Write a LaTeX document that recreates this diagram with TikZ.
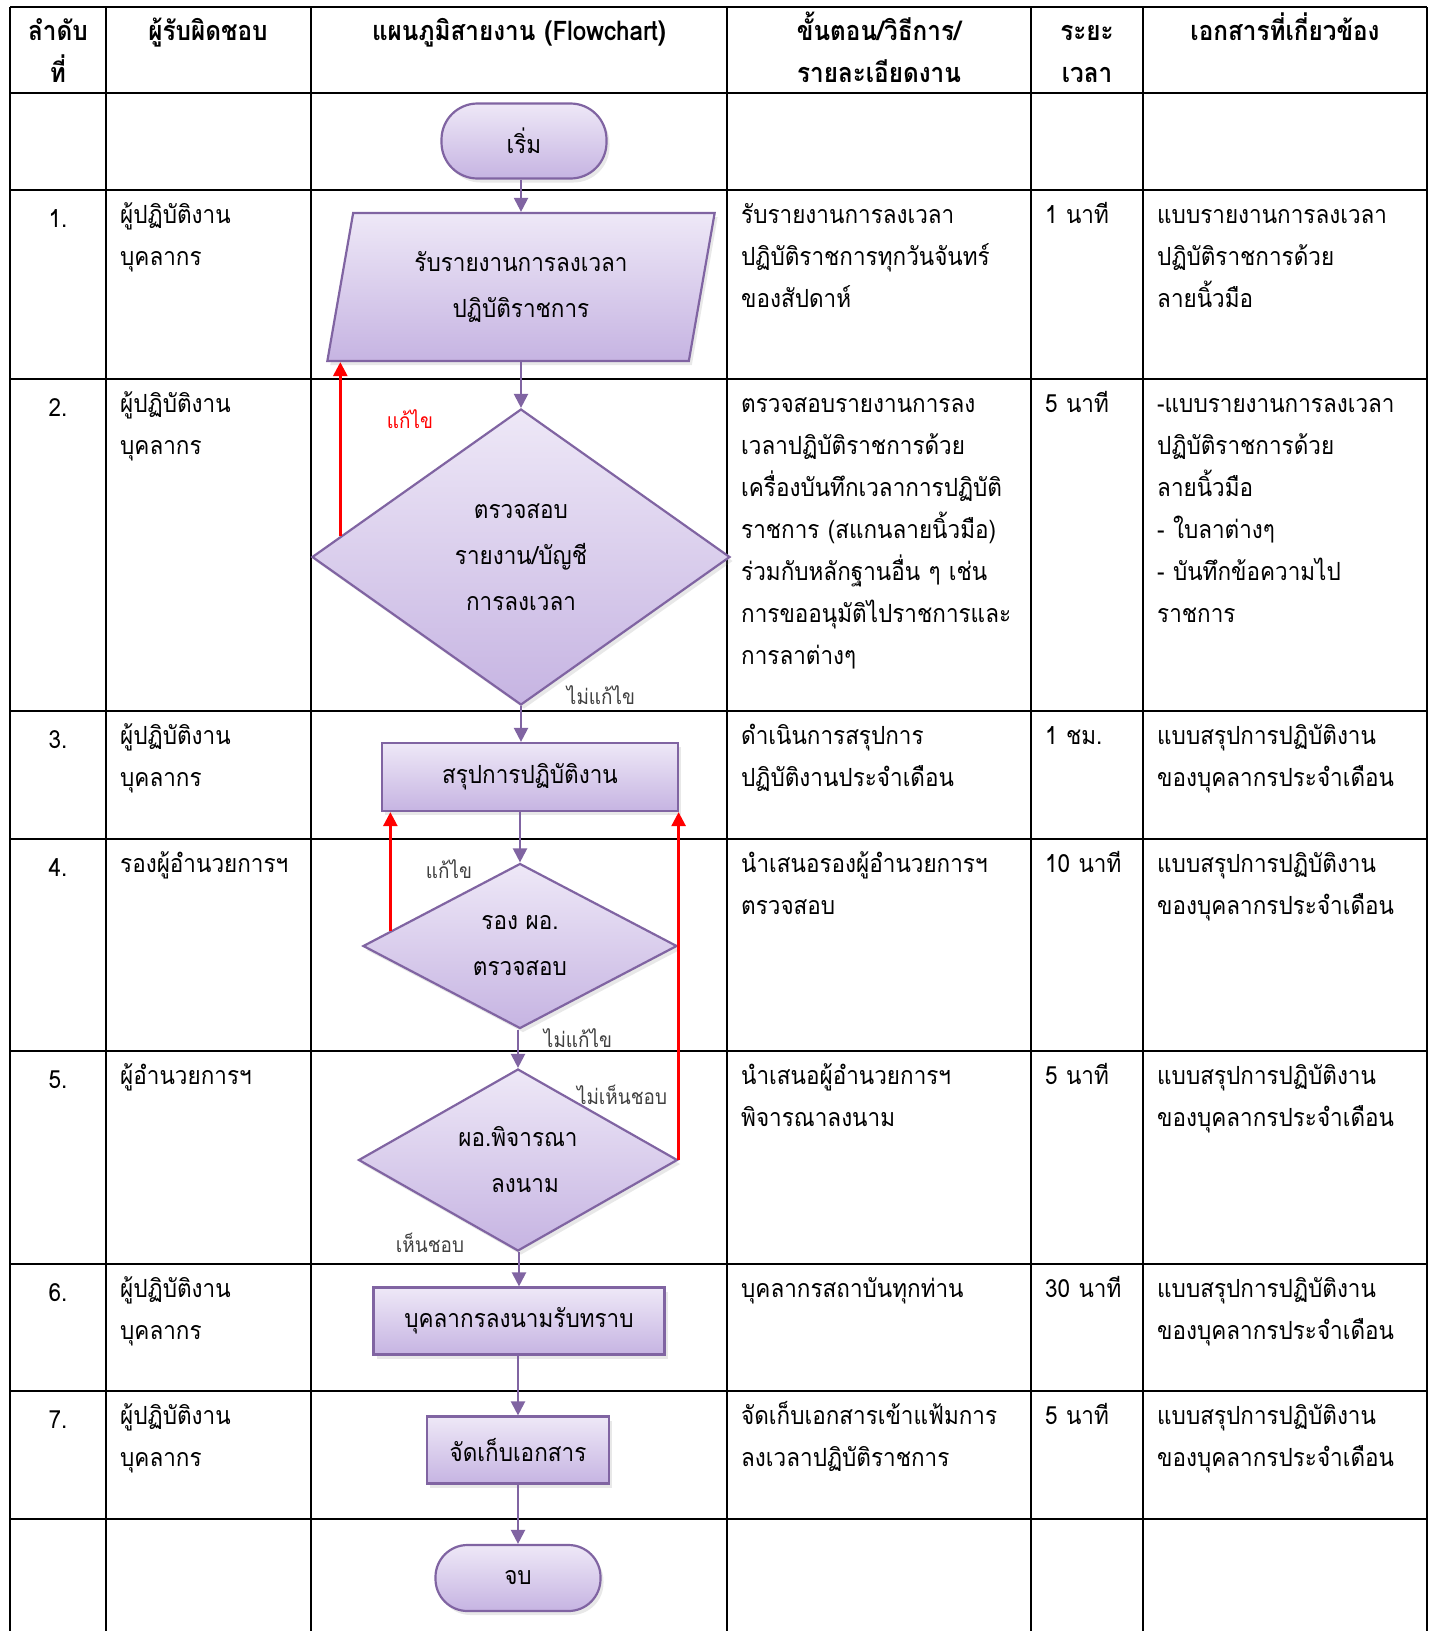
\documentclass[tikz,border=0pt]{standalone}
\usepackage{fontspec}
\newfontfamily\thai[Script=Thai,FakeStretch=0.9]{Loma}
\usetikzlibrary{arrows.meta,shapes.geometric,shadows,calc}

\definecolor{lavtop}{HTML}{EEE8F7}
\definecolor{lavbot}{HTML}{C6B4E2}
\definecolor{lavline}{HTML}{8064A2}
\definecolor{labgray}{HTML}{404040}

\tikzset{
  flow/.style={draw=lavline, line width=2.2pt, top color=lavtop, bottom color=lavbot,
    drop shadow={opacity=0.18, shadow xshift=3pt, shadow yshift=-4pt},
    font=\thai\fontsize{25}{46}\selectfont, align=center, inner sep=0pt},
  termbox/.style={flow, rectangle, minimum width=165pt},
  procbox/.style={flow, rectangle},
  iobox/.style={flow, trapezium, trapezium left angle=77, trapezium right angle=103,
    trapezium stretches=true},
  decbox/.style={flow, diamond},
  flowline/.style={draw=lavline, line width=2.2pt, -{Triangle[width=14pt,length=14pt]}},
  backline/.style={draw=red, line width=2.6pt, -{Triangle[width=14pt,length=14pt]}},
  gridline/.style={line width=2pt},
  headtext/.style={font=\thai\bfseries\fontsize{27}{42}\selectfont, align=center,
    anchor=base, inner sep=0pt},
  celltext/.style={font=\thai\fontsize{25}{42}\selectfont, align=left, text width=#1,
    anchor=base west, inner sep=0pt},
  celltext/.default=280pt,
  numtext/.style={font=\thai\fontsize{25}{42}\selectfont, anchor=base, inner sep=0pt},
  flowlab/.style={font=\thai\fontsize{21}{24}\selectfont, text=labgray, inner sep=0pt}
}

\begin{document}
\begin{tikzpicture}[x=1pt,y=-1pt]
  \useasboundingbox (0,0) rectangle (1432,1631);
  \fill[white] (0,0) rectangle (1432,1631);

  % table
  \foreach \cx in {10,106,311,727,1031,1143,1427}
    \draw[gridline] (\cx,7) -- (\cx,1631);
  \foreach \ry in {7,93,190,379,711,839,1051,1264,1391,1519}
    \draw[gridline] (10,\ry) -- (1427,\ry);

  \node[headtext, text width=90pt]  (hNo)   at (58,40)   {ลำดับ\\ที่};
  \node[headtext, text width=200pt] (hWho)  at (208,40)  {ผู้รับผิดชอบ};
  \node[headtext, text width=410pt] (hFlow) at (519,40)  {แผนภูมิสายงาน (Flowchart)};
  \node[headtext, text width=300pt] (hStep) at (879,40)  {ขั้นตอน/วิธีการ/\\รายละเอียดงาน};
  \node[headtext, text width=110pt] (hTime) at (1087,40) {ระยะ\\เวลา};
  \node[headtext, text width=280pt] (hDoc)  at (1285,40) {เอกสารที่เกี่ยวข้อง};

  \foreach \n/\ry/\who in {1/190/{ผู้ปฏิบัติงาน\\บุคลากร},2/379/{ผู้ปฏิบัติงาน\\บุคลากร},
      3/711/{ผู้ปฏิบัติงาน\\บุคลากร},4/839/{รองผู้อำนวยการฯ},5/1051/{ผู้อำนวยการฯ},
      6/1264/{ผู้ปฏิบัติงาน\\บุคลากร},7/1391/{ผู้ปฏิบัติงาน\\บุคลากร}}{
    \node[numtext] (num\n) at (58,\ry+37) {\n.};
    \node[celltext=185pt] (who\n) at (120,\ry+33) {\who};
  }

  \node[celltext] (step1) at (741,223) {รับรายงานการลงเวลา\\ปฏิบัติราชการทุกวันจันทร์\\ของสัปดาห์};
  \node[celltext] (step2) at (741,412) {ตรวจสอบรายงานการลง\\เวลาปฏิบัติราชการด้วย\\เครื่องบันทึกเวลาการปฏิบัติ\\ราชการ (สแกนลายนิ้วมือ)\\ร่วมกับหลักฐานอื่น ๆ เช่น\\การขออนุมัติไปราชการและ\\การลาต่างๆ};
  \node[celltext] (step3) at (741,744) {ดำเนินการสรุปการ\\ปฏิบัติงานประจำเดือน};
  \node[celltext] (step4) at (741,872) {นำเสนอรองผู้อำนวยการฯ\\ตรวจสอบ};
  \node[celltext] (step5) at (741,1084) {นำเสนอผู้อำนวยการฯ\\พิจารณาลงนาม};
  \node[celltext] (step6) at (741,1297) {บุคลากรสถาบันทุกท่าน};
  \node[celltext] (step7) at (741,1424) {จัดเก็บเอกสารเข้าแฟ้มการ\\ลงเวลาปฏิบัติราชการ};

  \foreach \n/\ry/\tm in {1/190/1 นาที,2/379/5 นาที,3/711/1 ชม.,4/839/10 นาที,
      5/1051/5 นาที,6/1264/30 นาที,7/1391/5 นาที}
    \node[celltext=95pt] (time\n) at (1045,\ry+33) {\tm};

  \node[celltext=265pt] (doc1) at (1157,223) {แบบรายงานการลงเวลา\\ปฏิบัติราชการด้วย\\ลายนิ้วมือ};
  \node[celltext=265pt] (doc2) at (1157,412) {-แบบรายงานการลงเวลา\\ปฏิบัติราชการด้วย\\ลายนิ้วมือ\\- ใบลาต่างๆ\\- บันทึกข้อความไป\\ราชการ};
  \foreach \n/\ry in {3/711,4/839,5/1051,6/1264,7/1391}
    \node[celltext=265pt] (doc\n) at (1157,\ry+33) {แบบสรุปการปฏิบัติงาน\\ของบุคลากรประจำเดือน};

  % flowchart
  \node[termbox, rounded corners=36pt, minimum height=75pt] (start) at (524,141) {เริ่ม};
  \node[iobox, minimum width=388pt, minimum height=148pt] (io) at (521,287) {รับรายงานการลงเวลา\\ปฏิบัติราชการ};
  \node[decbox, aspect=1.41, minimum width=418pt, minimum height=296pt] (chk1) at (521,557) {ตรวจสอบ\\รายงาน/บัญชี\\การลงเวลา};
  \node[procbox, minimum width=296pt, minimum height=68pt] (sum) at (530,777) {สรุปการปฏิบัติงาน};
  \node[decbox, aspect=1.9, minimum width=314pt, minimum height=165pt] (chk2) at (520,946) {รอง ผอ.\\ตรวจสอบ};
  \node[decbox, aspect=1.75, minimum width=319pt, minimum height=182pt] (sign) at (518,1160) {ผอ.พิจารณา\\\hspace*{14pt}ลงนาม};
  \node[procbox, minimum width=291pt, minimum height=67pt] (ack) at (519,1321) {บุคลากรลงนามรับทราบ};
  \node[procbox, minimum width=182pt, minimum height=67pt] (file) at (518,1450) {จัดเก็บเอกสาร};
  \node[termbox, rounded corners=32pt, minimum height=66pt] (stop) at (518,1578) {จบ};

  \draw[flowline] (io.north |- start.south) -- (io.north);
  \draw[flowline] (chk1.north |- io.south) -- (chk1.north);
  \draw[flowline] (chk1.south) -- (chk1.south |- sum.north);
  \draw[flowline] (chk2.north |- sum.south) -- (chk2.north);
  \draw[flowline] (sign.north |- chk2.south) -- (sign.north);
  \draw[flowline] (ack.north |- sign.south) -- (ack.north);
  \draw[flowline] (file.north |- ack.south) -- (file.north);
  \draw[flowline] (stop.north |- file.south) -- (stop.north);

  % back loops
  \coordinate (fix1) at ($(chk1.west)!0.14!(chk1.north)$);
  \coordinate (fix2) at ($(chk2.west)!0.18!(chk2.north)$);
  \draw[backline] (fix1) -- (fix1 |- io.south);
  \draw[backline] (fix2) -- (fix2 |- sum.south);
  \draw[backline] (sign.east) -- (sign.east |- sum.south);

  \node[flowlab, text=red] (fixA) at (410,419) {แก้ไข};
  \node[flowlab] (okA)   at (601,695)  {ไม่แก้ไข};
  \node[flowlab] (fixB)  at (449,869)  {แก้ไข};
  \node[flowlab] (okB)   at (578,1038) {ไม่แก้ไข};
  \node[flowlab] (noC)   at (622,1095) {ไม่เห็นชอบ};
  \node[flowlab] (yesC)  at (430,1243) {เห็นชอบ};
\end{tikzpicture}
\end{document}
